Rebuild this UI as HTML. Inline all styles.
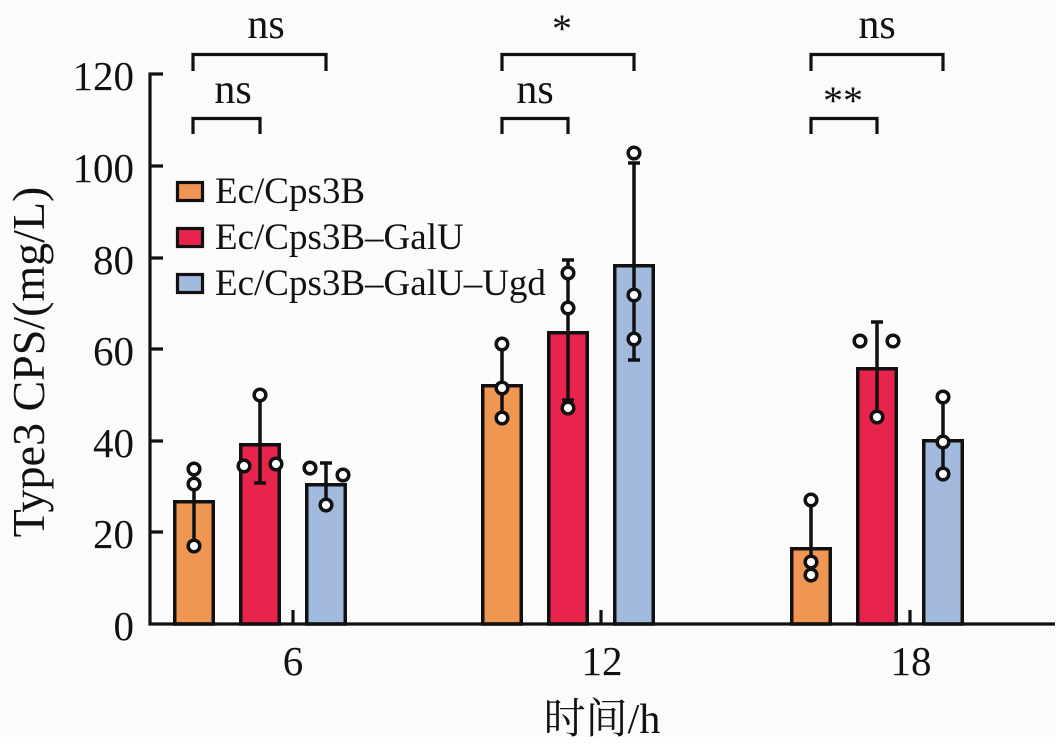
<!DOCTYPE html>
<html>
<head>
<meta charset="utf-8">
<style>
  html, body { margin:0; padding:0; background:#ffffff; }
  body { width:1064px; height:754px; overflow:hidden; }
  svg { display:block; }
  text { font-family: "Liberation Serif", "Noto Serif CJK SC", serif; fill:#111; }
</style>
</head>
<body>
<svg width="1064" height="754" viewBox="0 0 1064 754" xmlns="http://www.w3.org/2000/svg">
  <rect x="0" y="0" width="1056" height="737" fill="#fbfbfb"/>

  <!-- Bars -->
  <g stroke="#111" stroke-width="3.5">
    <!-- 6h -->
    <rect x="174.75" y="501.75" width="38.5" height="122.25" fill="#EF9652"/>
    <rect x="240.75" y="444.75" width="38.5" height="179.25" fill="#E8234C"/>
    <rect x="306.75" y="484.75" width="38.5" height="139.25" fill="#A2BADD"/>
    <!-- 12h -->
    <rect x="482.75" y="385.75" width="38.5" height="238.25" fill="#EF9652"/>
    <rect x="548.75" y="332.75" width="38.5" height="291.25" fill="#E8234C"/>
    <rect x="614.75" y="265.75" width="38.5" height="358.25" fill="#A2BADD"/>
    <!-- 18h -->
    <rect x="791.75" y="548.75" width="38.5" height="75.25" fill="#EF9652"/>
    <rect x="857.75" y="368.75" width="38.5" height="255.25" fill="#E8234C"/>
    <rect x="923.75" y="440.75" width="38.5" height="183.25" fill="#A2BADD"/>
  </g>

  <!-- Error bars -->
  <g stroke="#111" stroke-width="3.5" fill="none">
    <path d="M194,469 V546"/>
    <path d="M260,395 V483 M254,483 H266"/>
    <path d="M326,463 V505 M320,463 H332"/>
    <path d="M502,344 V418"/>
    <path d="M568,260 V400 M562,260 H574 M562,400 H574"/>
    <path d="M634,163 V360 M628,163 H640 M628,360 H640"/>
    <path d="M811,500 V575"/>
    <path d="M877,322 V417 M871,322 H883"/>
    <path d="M943,397 V474"/>
  </g>

  <!-- Data points -->
  <g stroke="#111" stroke-width="3.5" fill="#ffffff">
    <circle cx="194" cy="469" r="5.8"/>
    <circle cx="194" cy="484" r="5.8"/>
    <circle cx="194" cy="546" r="5.8"/>
    <circle cx="260" cy="395" r="5.8"/>
    <circle cx="244" cy="466" r="5.8"/>
    <circle cx="276" cy="464" r="5.8"/>
    <circle cx="310" cy="468" r="5.8"/>
    <circle cx="343" cy="475" r="5.8"/>
    <circle cx="326" cy="505" r="5.8"/>
    <circle cx="502" cy="344" r="5.8"/>
    <circle cx="502" cy="388" r="5.8"/>
    <circle cx="502" cy="418" r="5.8"/>
    <circle cx="568" cy="273" r="5.8"/>
    <circle cx="568" cy="308" r="5.8"/>
    <circle cx="568" cy="408" r="5.8"/>
    <circle cx="634" cy="153" r="5.8"/>
    <circle cx="634" cy="295" r="5.8"/>
    <circle cx="634" cy="339" r="5.8"/>
    <circle cx="811" cy="500" r="5.8"/>
    <circle cx="811" cy="562" r="5.8"/>
    <circle cx="811" cy="575" r="5.8"/>
    <circle cx="860" cy="341" r="5.8"/>
    <circle cx="893" cy="341" r="5.8"/>
    <circle cx="877" cy="417" r="5.8"/>
    <circle cx="943" cy="397" r="5.8"/>
    <circle cx="943" cy="442" r="5.8"/>
    <circle cx="943" cy="474" r="5.8"/>
  </g>

  <!-- Axes -->
  <g stroke="#111" stroke-width="3.2" fill="none">
    <path d="M150,72.5 V625.5"/>
    <path d="M148.5,624 H1055"/>
    <path d="M150,74 H163 M150,166 H163 M150,258 H163 M150,349 H163 M150,441 H163 M150,532 H163"/>
    <path d="M293,610 V624 M601,610 V624 M910,610 V624"/>
  </g>

  <!-- Y tick labels -->
  <g font-size="41" text-anchor="end">
    <text x="134" y="90">120</text>
    <text x="134" y="182">100</text>
    <text x="134" y="274">80</text>
    <text x="134" y="365">60</text>
    <text x="134" y="457">40</text>
    <text x="134" y="548">20</text>
    <text x="134" y="640">0</text>
  </g>

  <!-- X tick labels -->
  <g font-size="41" text-anchor="middle">
    <text x="293" y="675">6</text>
    <text x="602" y="675">12</text>
    <text x="911" y="675">18</text>
  </g>

  <!-- Axis titles -->
  <text x="602" y="733" font-size="42" text-anchor="middle">时间/h</text>
  <text transform="translate(44,362) rotate(-90)" font-size="46" text-anchor="middle">Type3 CPS/(mg/L)</text>

  <!-- Legend -->
  <g stroke="#111" stroke-width="3.2">
    <rect x="177.5" y="182.5" width="25" height="18" fill="#EF9652"/>
    <rect x="177.5" y="228.5" width="25" height="18" fill="#E8234C"/>
    <rect x="177.5" y="274.5" width="25" height="18" fill="#A2BADD"/>
  </g>
  <g font-size="37">
    <text x="215" y="203">Ec/Cps3B</text>
    <text x="215" y="249">Ec/Cps3B–GalU</text>
    <text x="215" y="295">Ec/Cps3B–GalU–Ugd</text>
  </g>

  <!-- Significance brackets -->
  <g stroke="#111" stroke-width="3.2" fill="none">
    <path d="M193,71 V54.5 H326 V71"/>
    <path d="M193,134 V118.5 H260 V134"/>
    <path d="M502,71 V54.5 H634 V71"/>
    <path d="M502,134 V118.5 H568 V134"/>
    <path d="M811,71 V54.5 H943 V71"/>
    <path d="M811,134 V118.5 H877 V134"/>
  </g>
  <g font-size="42" text-anchor="middle">
    <text x="266" y="38">ns</text>
    <text x="233" y="103">ns</text>
    <text x="535" y="103">ns</text>
    <text x="877" y="38">ns</text>
  </g>
  <g font-size="40" text-anchor="middle">
    <text x="562" y="42">*</text>
    <text x="843" y="114">**</text>
  </g>

  <!-- bottom/right edge -->
  <rect x="0" y="737" width="1064" height="17" fill="#ffffff"/>
  <rect x="1056" y="0" width="8" height="754" fill="#ffffff"/>
</svg>
</body>
</html>
